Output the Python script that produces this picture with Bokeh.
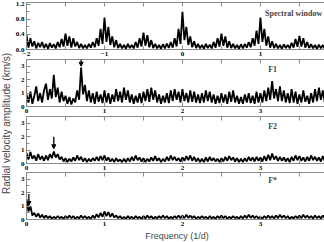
import numpy as np
from bokeh.plotting import figure
from bokeh.layouts import column, row
from bokeh.models import (FixedTicker, Range1d, Arrow, NormalHead,
                          Label, PrintfTickFormatter)
from bokeh.embed import file_html
from bokeh.resources import INLINE

# ---------------- data (amplitudes, step 0.025 1/d) ----
STEP = 0.025
window_start = -2.0
spectral_window = [
    0.38, 0.05, 0.30, 0.08, 0.22, 0.03, 0.18, 0.06, 0.20, 0.04,
    0.15, 0.02, 0.17, 0.05, 0.14, 0.03, 0.20, 0.06, 0.28, 0.08,
    0.42, 0.10, 0.35, 0.05, 0.30, 0.08, 0.20, 0.04, 0.15, 0.03,
    0.12, 0.03, 0.15, 0.05, 0.20, 0.06, 0.30, 0.10, 0.55, 0.15,
    0.85, 0.20, 0.60, 0.12, 0.35, 0.06, 0.25, 0.04, 0.15, 0.03,
    0.12, 0.02, 0.15, 0.04, 0.12, 0.03, 0.20, 0.05, 0.30, 0.08,
    0.45, 0.10, 0.38, 0.06, 0.25, 0.04, 0.15, 0.03, 0.12, 0.02,
    0.14, 0.03, 0.16, 0.04, 0.20, 0.05, 0.30, 0.08, 0.55, 0.15,
    1.00, 0.25, 0.60, 0.12, 0.35, 0.06, 0.22, 0.04, 0.15, 0.03,
    0.12, 0.02, 0.15, 0.04, 0.13, 0.03, 0.20, 0.05, 0.30, 0.08,
    0.42, 0.10, 0.35, 0.05, 0.22, 0.04, 0.15, 0.03, 0.12, 0.02,
    0.14, 0.03, 0.15, 0.05, 0.20, 0.06, 0.30, 0.10, 0.50, 0.15,
    0.85, 0.20, 0.55, 0.10, 0.35, 0.05, 0.22, 0.04, 0.15, 0.03,
    0.12, 0.02, 0.14, 0.04, 0.12, 0.03, 0.18, 0.05, 0.28, 0.07,
    0.36, 0.08, 0.30, 0.05, 0.20, 0.04, 0.14, 0.03, 0.12, 0.02,
    0.13, 0.03, 0.12, 0.02, 0.10,
]

freq_start = 0.0
amp_f1 = [
    0.9, 0.3, 1.1, 0.2, 0.8, 1.5, 0.4, 1.0, 0.3, 1.2,
    1.7, 0.5, 1.3, 0.6, 2.35, 0.7, 1.4, 0.3, 1.1, 0.4,
    0.8, 0.2, 0.7, 0.15, 0.6, 0.3, 1.2, 0.5, 2.9, 0.9,
    1.6, 0.4, 1.2, 0.3, 1.0, 0.2, 1.1, 0.35, 0.9, 0.25,
    1.2, 0.3, 1.0, 0.2, 0.9, 0.35, 1.3, 0.4, 1.1, 0.3,
    1.4, 0.5, 1.2, 0.3, 0.9, 0.2, 0.8, 0.3, 1.0, 0.25,
    1.1, 0.4, 1.3, 0.35, 1.4, 0.5, 1.2, 0.3, 0.9, 0.2,
    0.8, 0.3, 1.0, 0.25, 1.2, 0.4, 1.3, 0.5, 1.1, 0.3,
    1.3, 0.4, 1.0, 0.3, 1.2, 0.35, 1.1, 0.3, 0.9, 0.25,
    1.0, 0.3, 1.2, 0.4, 1.1, 0.3, 0.9, 0.2, 0.8, 0.25,
    1.0, 0.3, 0.9, 0.2, 1.1, 0.35, 1.2, 0.3, 0.8, 0.2,
    0.7, 0.2, 0.9, 0.3, 1.0, 0.25, 0.8, 0.2, 1.1, 0.3,
    1.0, 0.3, 1.2, 0.4, 1.4, 0.5, 1.9, 0.6, 1.3, 0.4,
    1.5, 0.4, 1.2, 0.3, 1.0, 0.25, 1.3, 0.3, 1.1, 0.2,
    0.9, 0.3, 1.2, 0.35, 0.8, 0.2, 1.0, 0.3, 1.3, 0.4,
    1.4, 0.5, 1.2, 0.3, 1.0,
]
amp_f2 = [
    0.8, 0.3, 0.85, 0.35, 0.6, 0.2, 0.7, 0.3, 0.55, 0.2,
    0.6, 0.25, 0.7, 0.4, 0.9, 0.45, 0.7, 0.3, 0.5, 0.15,
    0.4, 0.1, 0.35, 0.15, 0.45, 0.2, 0.6, 0.25, 0.5, 0.15,
    0.4, 0.1, 0.35, 0.15, 0.4, 0.2, 0.5, 0.2, 0.55, 0.25,
    0.6, 0.2, 0.45, 0.15, 0.35, 0.1, 0.4, 0.15, 0.3, 0.1,
    0.35, 0.1, 0.4, 0.15, 0.5, 0.2, 0.6, 0.25, 0.45, 0.15,
    0.4, 0.1, 0.35, 0.15, 0.45, 0.2, 0.55, 0.2, 0.4, 0.1,
    0.35, 0.15, 0.5, 0.2, 0.6, 0.25, 0.5, 0.2, 0.4, 0.15,
    0.45, 0.2, 0.55, 0.25, 0.6, 0.2, 0.5, 0.15, 0.4, 0.1,
    0.35, 0.1, 0.45, 0.15, 0.5, 0.2, 0.4, 0.15, 0.35, 0.1,
    0.4, 0.15, 0.5, 0.2, 0.55, 0.25, 0.45, 0.15, 0.4, 0.1,
    0.35, 0.1, 0.4, 0.15, 0.5, 0.2, 0.45, 0.15, 0.5, 0.2,
    0.45, 0.15, 0.55, 0.2, 0.65, 0.25, 0.75, 0.3, 0.55, 0.2,
    0.5, 0.2, 0.45, 0.15, 0.4, 0.1, 0.5, 0.2, 0.6, 0.25,
    0.55, 0.2, 0.45, 0.15, 0.5, 0.2, 0.6, 0.25, 0.5, 0.2,
    0.45, 0.15, 0.55, 0.2, 0.5,
]
amp_fstar = [
    1.5, 0.6, 1.0, 0.3, 0.5, 0.2, 0.45, 0.15, 0.35, 0.1,
    0.3, 0.1, 0.25, 0.05, 0.2, 0.08, 0.25, 0.1, 0.2, 0.05,
    0.25, 0.1, 0.3, 0.1, 0.25, 0.05, 0.2, 0.08, 0.3, 0.1,
    0.25, 0.08, 0.2, 0.05, 0.3, 0.1, 0.4, 0.15, 0.5, 0.2,
    0.6, 0.25, 0.55, 0.2, 0.45, 0.15, 0.3, 0.1, 0.25, 0.05,
    0.2, 0.05, 0.25, 0.08, 0.2, 0.05, 0.25, 0.1, 0.2, 0.05,
    0.25, 0.08, 0.3, 0.1, 0.25, 0.05, 0.2, 0.08, 0.25, 0.1,
    0.3, 0.1, 0.25, 0.05, 0.2, 0.08, 0.25, 0.1, 0.3, 0.1,
    0.3, 0.1, 0.35, 0.12, 0.3, 0.1, 0.25, 0.05, 0.2, 0.08,
    0.25, 0.1, 0.2, 0.05, 0.25, 0.08, 0.2, 0.05, 0.25, 0.1,
    0.3, 0.1, 0.25, 0.05, 0.2, 0.08, 0.25, 0.1, 0.2, 0.05,
    0.25, 0.08, 0.3, 0.1, 0.35, 0.12, 0.3, 0.1, 0.25, 0.08,
    0.2, 0.05, 0.25, 0.1, 0.3, 0.1, 0.25, 0.08, 0.3, 0.1,
    0.35, 0.12, 0.3, 0.1, 0.25, 0.05, 0.2, 0.08, 0.25, 0.1,
    0.3, 0.1, 0.35, 0.12, 0.3, 0.1, 0.25, 0.08, 0.3, 0.1,
    0.25, 0.08, 0.3, 0.1, 0.25,
]

panel_titles = ["Spectral window", "F1", "F2", "F*"]
arrow_freqs = [None, 0.70, 0.35, 0.03]
arrow_tops = [None, 3.5, 2.0, 1.9]
arrow_tips = [None, 3.0, 1.1, 1.05]
window_ticks = [-2, -1, 0, 1]
freq_ticks = [0, 1, 2, 3]

GRAY = "#8a8a8a"
SERIF = "Liberation Serif"
SANS = "Liberation Sans"
SPAN = 3.86


def style_axis(ax):
    ax.axis_line_color = GRAY
    ax.major_tick_line_color = GRAY
    ax.minor_tick_line_color = GRAY
    ax.major_tick_in = 4
    ax.major_tick_out = 0
    ax.minor_tick_in = 3
    ax.minor_tick_out = 0
    ax.major_label_text_font = SERIF
    ax.major_label_text_font_style = "bold"
    ax.major_label_text_color = "black"
    ax.major_label_text_font_size = "7px"
    ax.major_label_standoff = 2


def make_panel(start, amps, ymax, yticks, yminor, xticks, title, tx, ty,
               top, bottom, arrow):
    x = start + STEP * np.arange(len(amps))
    p = figure(frame_width=301, frame_height=47, output_backend="svg",
               toolbar_location=None, title_location=None,
               x_range=Range1d(start, start + SPAN), y_range=Range1d(0, ymax),
               min_border_left=11, min_border_right=0, min_border_top=top,
               min_border_bottom=bottom)
    p.grid.visible = False
    p.outline_line_color = GRAY
    p.line(x, amps, line_color="black", line_width=1.8)

    xminor = [t + 0.5 for t in xticks] + [xticks[0] - 0.5]
    p.xaxis.ticker = FixedTicker(ticks=xticks, minor_ticks=xminor)
    style_axis(p.xaxis[0])
    # inward ticks on the top edge of the frame
    p.scatter(xticks + xminor, [ymax] * (len(xticks) + len(xminor)),
              marker="dash", angle=np.pi / 2, size=8, line_color=GRAY,
              line_width=1)
    p.yaxis.ticker = FixedTicker(ticks=yticks, minor_ticks=yminor)
    style_axis(p.yaxis[0])
    if ymax < 2:
        p.yaxis.formatter = PrintfTickFormatter(format="%.1f")

    p.add_layout(Label(x=tx, y=ty, text=title, text_font=SERIF,
                       text_font_style="bold", text_font_size="8px",
                       text_baseline="middle", text_align="left"))
    if arrow is not None:
        af, a0, a1 = arrow
        p.add_layout(Arrow(end=NormalHead(size=4, fill_color="black",
                                          line_color="black"),
                           x_start=af, y_start=a0, x_end=af, y_end=a1,
                           line_color="black", line_width=1.3))
    return p


p1 = make_panel(window_start, spectral_window, 1.25, [0, 0.4, 0.8, 1.2],
                [0.2, 0.6, 1.0], window_ticks, panel_titles[0], 1.06, 0.96,
                2, 10, None)
p2 = make_panel(freq_start, amp_f1, 3.5, freq_ticks, [0.5, 1.5, 2.5],
                freq_ticks, panel_titles[1], 3.1, 2.75, 0, 10,
                (arrow_freqs[1], arrow_tops[1], arrow_tips[1]))
p3 = make_panel(freq_start, amp_f2, 3.5, freq_ticks, [0.5, 1.5, 2.5],
                freq_ticks, panel_titles[2], 3.1, 2.75, 0, 9,
                (arrow_freqs[2], arrow_tops[2], arrow_tips[2]))
p4 = make_panel(freq_start, amp_fstar, 3.5, freq_ticks, [0.5, 1.5, 2.5],
                freq_ticks, panel_titles[3], 3.1, 2.9, 0, 22,
                (arrow_freqs[3], arrow_tops[3], arrow_tips[3]))
xa = p4.xaxis[0]
xa.axis_label = "Frequency (1/d)"
xa.axis_label_text_font = SANS
xa.axis_label_text_font_style = "normal"
xa.axis_label_text_font_size = "9px"
xa.axis_label_standoff = 2

total_h = 59 + 57 + 56 + 70
lab = figure(width=12, height=total_h, output_backend="svg",
             toolbar_location=None, title_location=None, min_border=0,
             x_range=Range1d(0, 1), y_range=Range1d(0, 1))
lab.axis.visible = False
lab.grid.visible = False
lab.outline_line_color = None
lab.add_layout(Label(x=6, y=total_h / 2 - 2, x_units="screen", y_units="screen",
                     text="Radial velocity amplitude (km/s)", angle=np.pi / 2,
                     text_align="center", text_baseline="middle",
                     text_font=SANS, text_font_size="10px"))

layout = row(lab, column(p1, p2, p3, p4, spacing=0), spacing=0)

open("out.html", "w").write(file_html(layout, INLINE))
